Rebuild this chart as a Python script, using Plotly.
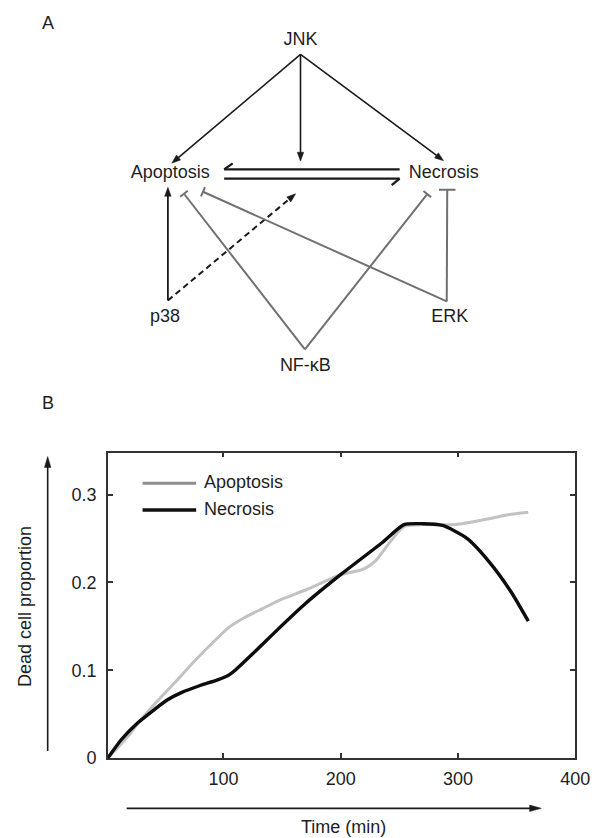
import math
import plotly.graph_objects as go

# ---------------- Panel B data ----------------
series_names = ["Apoptosis", "Necrosis"]
time_apoptosis = [1.5, 10, 20, 28, 41, 60, 75, 92, 104, 118, 133, 150, 171, 200, 219, 230, 242, 254, 270, 298, 324, 342, 360]
apoptosis = [0, 0.012, 0.027, 0.041, 0.061, 0.088, 0.110, 0.133, 0.148, 0.160, 0.170, 0.181, 0.192, 0.209, 0.215, 0.225, 0.246, 0.264, 0.266, 0.266, 0.272, 0.277, 0.280]
time_necrosis = [1.5, 13, 27, 40, 52, 65, 79, 95, 104, 110, 122, 136, 146, 170, 201, 235, 254, 270, 287, 308, 327, 345, 360]
necrosis = [0, 0.021, 0.040, 0.054, 0.066, 0.075, 0.082, 0.089, 0.094, 0.100, 0.115, 0.133, 0.146, 0.176, 0.210, 0.245, 0.266, 0.267, 0.265, 0.250, 0.223, 0.190, 0.156]
x_ticks = [100, 200, 300, 400]
x_tick_labels = ["100", "200", "300", "400"]
y_ticks = [0, 0.1, 0.2, 0.3]
y_tick_labels = ["0", "0.1", "0.2", "0.3"]
x_title = "Time (min)"
y_title = "Dead cell proportion"

# ---------------- Panel A network ----------------
nodes = ["JNK", "Apoptosis", "Necrosis", "p38", "ERK", "NF-κB"]
activations = [("JNK", "Apoptosis"), ("JNK", "switch"), ("JNK", "Necrosis"), ("p38", "Apoptosis")]
dashed_activations = [("p38", "switch")]
inhibitions = [("NF-κB", "Apoptosis"), ("ERK", "Apoptosis"), ("NF-κB", "Necrosis"), ("ERK", "Necrosis")]
panel_labels = ["A", "B"]

# ---------------- layout positions (pixels of the 600x838 page) ----------------
W, H = 600, 838
label_pos = {"JNK": (300, 33), "Apoptosis": (166.5, 167), "Necrosis": (447, 167),
             "p38": (161, 313), "ERK": (453, 313), "NF-κB": (305, 363)}
source_pt = {"JNK": (300, 47), "p38": (164, 296), "ERK": (450, 297), "NF-κB": (304.5, 345.5)}
target_pt = {("JNK", "Apoptosis"): (168, 157), ("JNK", "switch"): (300, 155),
             ("JNK", "Necrosis"): (446.7, 154.5), ("p38", "Apoptosis"): (164, 181.5),
             ("p38", "switch"): (295, 188),
             ("NF-κB", "Apoptosis"): (180.5, 188), ("ERK", "Apoptosis"): (200, 186),
             ("NF-κB", "Necrosis"): (430, 188.3), ("ERK", "Necrosis"): (450.5, 184)}
tbar_half = {("ERK", "Necrosis"): 8.5}

BLACK = "#1a1a1a"
GREY = "#707070"
FONT = "Liberation Sans, Arial, sans-serif"
TEXT_COL = "#1e1e1e"

shapes = []


def line(p0, p1, color, width, dash=None):
    d = dict(type="line", xref="x2", yref="y2", x0=p0[0], y0=p0[1], x1=p1[0], y1=p1[1],
             line=dict(color=color, width=width))
    if dash:
        d["line"]["dash"] = dash
    shapes.append(d)


def arrow(p0, p1, color, width, L=9, hw=3.3, dash=None):
    dx, dy = p1[0] - p0[0], p1[1] - p0[1]
    n = math.hypot(dx, dy)
    ux, uy = dx / n, dy / n
    bx, by = p1[0] - L * ux, p1[1] - L * uy
    px, py = -uy, ux
    line(p0, (bx + ux * 1, by + uy * 1), color, width, dash)
    path = "M {:.2f},{:.2f} L {:.2f},{:.2f} L {:.2f},{:.2f} Z".format(
        p1[0], p1[1], bx + hw * px, by + hw * py, bx - hw * px, by - hw * py)
    shapes.append(dict(type="path", xref="x2", yref="y2", path=path,
                       fillcolor=color, line=dict(color=color, width=0.5)))


def tbar(p0, p1, color, width, half=5):
    dx, dy = p1[0] - p0[0], p1[1] - p0[1]
    n = math.hypot(dx, dy)
    ux, uy = dx / n, dy / n
    px, py = -uy, ux
    line(p0, p1, color, width)
    line((p1[0] + half * px, p1[1] + half * py), (p1[0] - half * px, p1[1] - half * py), color, width)


def harpoon(p0, p1, barb_end, color, width):
    line(p0, p1, color, width)
    line(p1, barb_end, color, width)


# activations
for e in activations:
    w = 1.6 if e[0] == "JNK" else 1.8
    arrow(source_pt[e[0]], target_pt[e], BLACK, w)
for e in dashed_activations:
    arrow(source_pt[e[0]], target_pt[e], BLACK, 2.0, dash="6px,4px")
# inhibitions
for e in inhibitions:
    tbar(source_pt[e[0]], target_pt[e], GREY, 2.0, tbar_half.get(e, 5))
# reversible Apoptosis <-> Necrosis switch (harpoons)
harpoon((401.7, 163.3), (221.7, 163.3), (230.5, 157.3), BLACK, 2.3)
harpoon((221.7, 172.7), (401.7, 172.7), (393.5, 179.3), BLACK, 2.3)

# axis arrows of panel B
arrow((40.7, 752), (40.7, 454), BLACK, 1.6, L=11, hw=3.3)
arrow((121.7, 810), (547, 810), BLACK, 1.6, L=12, hw=3.3)

# legend swatches
legend_rows = {series_names[0]: 481, series_names[1]: 508}
line((138, legend_rows[series_names[0]]), (193, legend_rows[series_names[0]]), "#8e8e8e", 3.2)
line((138, legend_rows[series_names[1]]), (193, legend_rows[series_names[1]]), "#111111", 3.4)

annotations = []


def text(s, x, y, size=18, angle=0, xanchor="center"):
    annotations.append(dict(text=s, x=x, y=y, xref="x2", yref="y2", showarrow=False,
                            xanchor=xanchor, yanchor="middle", textangle=angle,
                            font=dict(family=FONT, size=size, color=TEXT_COL)))


text(panel_labels[0], 40.7, 15)
text(panel_labels[1], 40.7, 400)
text(y_title, 16.7, 606, angle=-90)
text(x_title, 344, 829)
for name in series_names:
    text(name, 199, legend_rows[name] - 1, xanchor="left")

fig = go.Figure()
fig.add_trace(go.Scatter(x=time_apoptosis, y=apoptosis, name=series_names[0], mode="lines",
                         line=dict(color="#c2c2c2", width=3, shape="spline", smoothing=0.6),
                         xaxis="x", yaxis="y"))
fig.add_trace(go.Scatter(x=time_necrosis, y=necrosis, name=series_names[1], mode="lines",
                         line=dict(color="#0d0d0d", width=3.4, shape="spline", smoothing=0.6),
                         xaxis="x", yaxis="y"))
fig.add_trace(go.Scatter(x=[label_pos[n][0] for n in nodes], y=[label_pos[n][1] for n in nodes],
                         text=nodes, mode="text", textposition="middle center",
                         textfont=dict(family=FONT, size=18, color=TEXT_COL),
                         xaxis="x2", yaxis="y2", hoverinfo="skip", cliponaxis=False))

axis_common = dict(showgrid=False, zeroline=False, showline=True, linecolor="#333333", linewidth=1.6,
                   ticks="inside", ticklen=5, tickwidth=1.5, tickcolor="#333333", mirror="ticks",
                   tickfont=dict(family=FONT, size=18, color=TEXT_COL), fixedrange=True)

fig.update_layout(
    width=W, height=H, margin=dict(l=0, r=0, t=0, b=0),
    paper_bgcolor="white", plot_bgcolor="rgba(0,0,0,0)", showlegend=False,
    xaxis=dict(domain=[102.5 / W, 581.7 / W], range=[1.5, 400], tickvals=x_ticks,
               ticktext=x_tick_labels, ticklabelstandoff=4, anchor="y", **axis_common),
    yaxis=dict(domain=[1 - 759 / H, 1 - 450 / H], range=[0, 0.348], tickvals=y_ticks,
               ticktext=y_tick_labels, ticklabelstandoff=6, anchor="x", **axis_common),
    xaxis2=dict(domain=[0, 1], range=[0, W], visible=False, anchor="y2", fixedrange=True),
    yaxis2=dict(domain=[0, 1], range=[H, 0], visible=False, anchor="x2", fixedrange=True),
    shapes=shapes, annotations=annotations,
)

fig.write_html("out.html")
